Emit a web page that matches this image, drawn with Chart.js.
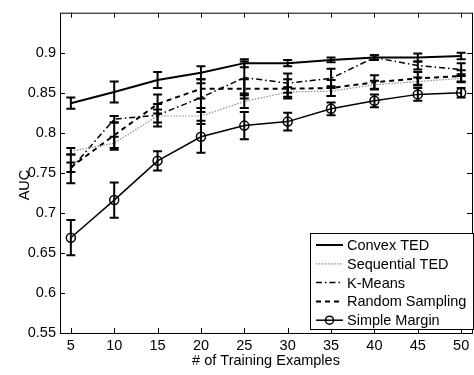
<!DOCTYPE html>
<html>
<head>
<meta charset="utf-8">
<script src="https://cdn.jsdelivr.net/npm/chart.js@4/dist/chart.umd.min.js"></script>
<style>
    html, body { margin: 0; padding: 0; background: #fff; overflow: hidden; }
    #wrap { width: 478px; height: 375px; }
</style>
</head>
<body>
<div id="wrap"><canvas id="aucChart"></canvas></div>
<script>
// values
const xValues = [5, 10, 15, 20, 25, 30, 35, 40, 45, 50];
const yTicks = [0.55, 0.6, 0.65, 0.7, 0.75, 0.8, 0.85, 0.9];

const convexTed = [0.837, 0.851, 0.866, 0.875, 0.887, 0.887, 0.891, 0.894, 0.894, 0.896];
const sequentialTed = [0.777, 0.787, 0.821, 0.821, 0.839, 0.851, 0.852, 0.860, 0.864, 0.868];
const kMeans = [0.755, 0.817, 0.822, 0.844, 0.869, 0.862, 0.868, 0.894, 0.884, 0.879];
const randomSampling = [0.757, 0.797, 0.836, 0.855, 0.855, 0.855, 0.856, 0.863, 0.868, 0.871];
const simpleMargin = [0.669, 0.716, 0.765, 0.795, 0.809, 0.814, 0.830, 0.840, 0.848, 0.850];

const convexErr = [0.007, 0.013, 0.010, 0.008, 0.005, 0.004, 0.003, 0.003, 0.005, 0.004];
const sequentialErr = [0.004, 0.008, 0.008, 0.010, 0.008, 0.006, 0.006, 0.005, 0.005, 0.005];
const kMeansErr = [0.018, 0.004, 0.014, 0.018, 0.020, 0.012, 0.012, 0.003, 0.005, 0.008];
const randomErr = [0.006, 0.016, 0.012, 0.012, 0.012, 0.012, 0.010, 0.009, 0.008, 0.007];
const simpleErr = [0.022, 0.022, 0.012, 0.020, 0.017, 0.011, 0.008, 0.008, 0.008, 0.006];

const FONT = 'Liberation Sans, Arial, Helvetica, sans-serif';
const FSIZE = 14.5;

function points(vals) {
    return xValues.map((x, i) => ({x: x, y: vals[i]}));
}

const seriesList = [
    {label: 'Convex TED', vals: convexTed, err: convexErr, color: '#000', width: 2, dash: [], marker: false},
    {label: 'Sequential TED', vals: sequentialTed, err: sequentialErr, color: '#8a8a8a', width: 1.2, dash: [1.5, 1.5], marker: false},
    {label: 'K-Means', vals: kMeans, err: kMeansErr, color: '#000', width: 1.5, dash: [6, 3, 1.5, 3], marker: false},
    {label: 'Random Sampling', vals: randomSampling, err: randomErr, color: '#000', width: 2, dash: [5, 4], marker: false},
    {label: 'Simple Margin', vals: simpleMargin, err: simpleErr, color: '#000', width: 1.5, dash: [], marker: true}
];

// error bars, inward ticks, box, y title and legend
const matlabLook = {
    id: 'matlabLook',
    afterDatasetsDraw(chart) {
        const ctx = chart.ctx;
        const xs = chart.scales.x, ys = chart.scales.y;
        ctx.save();
        ctx.strokeStyle = '#000';
        ctx.lineWidth = 2;
        ctx.setLineDash([]);
        seriesList.forEach(s => {
            xValues.forEach((x, i) => {
                const px = xs.getPixelForValue(x);
                const top = ys.getPixelForValue(s.vals[i] + s.err[i]);
                const bot = ys.getPixelForValue(s.vals[i] - s.err[i]);
                ctx.beginPath();
                ctx.moveTo(px, top); ctx.lineTo(px, bot);
                ctx.moveTo(px - 4.5, top); ctx.lineTo(px + 4.5, top);
                ctx.moveTo(px - 4.5, bot); ctx.lineTo(px + 4.5, bot);
                ctx.stroke();
            });
        });
        ctx.restore();
    },
    afterDraw(chart) {
        const ctx = chart.ctx;
        const a = chart.chartArea;
        const xs = chart.scales.x, ys = chart.scales.y;
        ctx.save();
        ctx.strokeStyle = '#000';
        ctx.lineWidth = 1;
        ctx.setLineDash([]);
        ctx.strokeRect(a.left + 0.5, a.top + 0.5, a.right - a.left, a.bottom - a.top);
        ctx.beginPath();
        xValues.forEach(v => {
            const px = Math.round(xs.getPixelForValue(v)) + 0.5;
            ctx.moveTo(px, a.bottom); ctx.lineTo(px, a.bottom - 5);
            ctx.moveTo(px, a.top); ctx.lineTo(px, a.top + 5);
        });
        yTicks.forEach(v => {
            const py = Math.round(ys.getPixelForValue(v)) + 0.5;
            ctx.moveTo(a.left, py); ctx.lineTo(a.left + 5, py);
            ctx.moveTo(a.right, py); ctx.lineTo(a.right - 5, py);
        });
        ctx.stroke();

        // y axis title
        ctx.save();
        ctx.translate(25, 185);
        ctx.rotate(-Math.PI / 2);
        ctx.fillStyle = '#000';
        ctx.font = FSIZE + 'px ' + FONT;
        ctx.textAlign = 'center';
        ctx.textBaseline = 'middle';
        ctx.fillText('AUC', 0, 0);
        ctx.restore();

        // legend box
        const bx = 310.5, by = 233.5, bw = 163, bh = 96;
        ctx.fillStyle = '#fff';
        ctx.fillRect(bx, by, bw, bh);
        ctx.strokeRect(bx, by, bw, bh);
        ctx.font = FSIZE + 'px ' + FONT;
        ctx.textBaseline = 'middle';
        seriesList.forEach((s, i) => {
            const y = 245 + i * 18.8;
            ctx.strokeStyle = s.color;
            ctx.lineWidth = s.width;
            ctx.setLineDash(s.dash);
            ctx.beginPath();
            ctx.moveTo(316, y); ctx.lineTo(343, y);
            ctx.stroke();
            if (s.marker) {
                ctx.setLineDash([]);
                ctx.beginPath();
                ctx.arc(329.5, y, 4, 0, Math.PI * 2);
                ctx.stroke();
            }
            ctx.setLineDash([]);
            ctx.fillStyle = '#000';
            ctx.fillText(s.label, 347, y + 1);
        });
        ctx.restore();
    }
};

const ctx = document.getElementById('aucChart').getContext('2d');
const aucChart = new Chart(ctx, {
    type: 'line',
    data: {
        datasets: seriesList.map(s => ({
            label: s.label,
            data: points(s.vals),
            borderColor: s.color,
            borderWidth: s.width,
            borderDash: s.dash,
            fill: false,
            tension: 0,
            pointRadius: s.marker ? 4.5 : 0,
            pointBorderWidth: 1.5,
            pointBorderColor: '#000',
            pointBackgroundColor: 'rgba(0,0,0,0)',
            pointStyle: 'circle'
        }))
    },
    options: {
        responsive: true, maintainAspectRatio: false, animation: false,
        layout: {padding: {top: 6, left: 2, right: 2, bottom: 0}},
        plugins: {legend: {display: false}, tooltip: {enabled: false}},
        scales: {
            x: {
                type: 'linear', min: 3.75, max: 51.25,
                afterBuildTicks: scale => { scale.ticks = xValues.map(v => ({value: v})); },
                afterFit: scale => { scale.height = 42; },
                grid: {display: false, drawTicks: false},
                border: {display: false},
                ticks: {color: '#000', padding: 4, font: {family: FONT, size: FSIZE}, maxRotation: 0},
                title: {display: true, text: '# of Training Examples', color: '#000',
                    font: {family: FONT, size: FSIZE}, padding: {top: 0, bottom: 5}}
            },
            y: {
                type: 'linear', min: 0.55, max: 0.95,
                afterBuildTicks: scale => { scale.ticks = yTicks.map(v => ({value: v})); },
                afterFit: scale => { scale.width = 58; },
                grid: {display: false, drawTicks: false},
                border: {display: false},
                ticks: {color: '#000', padding: 4, font: {family: FONT, size: FSIZE},
                    callback: v => String(Math.round(v * 100) / 100)}
            }
        }
    },
    plugins: [matlabLook]
});
</script>
</body>
</html>
